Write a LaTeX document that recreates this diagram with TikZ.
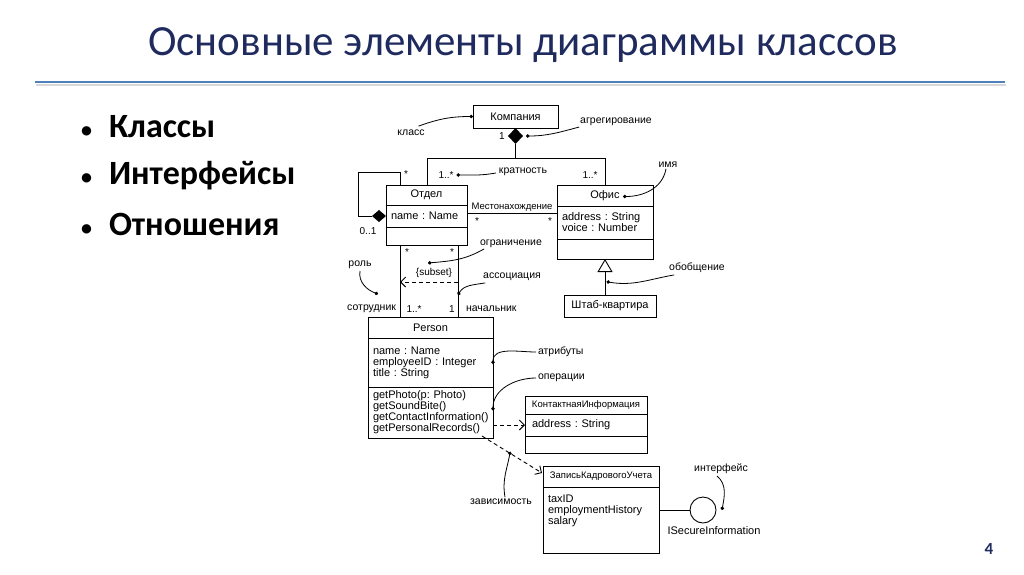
\documentclass[tikz,border=0pt]{standalone}
\usepackage{fontspec}
\setmainfont{Carlito}
\newfontfamily\umlfont{Liberation Sans}
\usetikzlibrary{arrows.meta,positioning,shapes.geometric,calc}
\frenchspacing

\definecolor{titleblue}{HTML}{1F2B5E}
\definecolor{ruleblue}{HTML}{4F81BD}

\newcommand{\itembullet}{\llap{{\fontsize{22}{22}\selectfont•}\hspace{17pt}}}

\begin{document}
\begin{tikzpicture}[
    x=1pt, y=1pt,
    every node/.style={inner sep=0pt, outer sep=0pt, font=\umlfont\fontsize{11}{11}\selectfont},
    cls/.style 2 args={draw, line width=0.9pt, minimum width=#1, minimum height=#2},
    attr/.style 2 args={draw, line width=0.9pt, text width=#1, inner xsep=5pt,
        minimum height=#2, align=left},
    agg/.style 2 args={diamond, fill, minimum width=#1, minimum height=#2},
    link/.style={line width=0.9pt},
    dep/.style={line width=0.9pt, dash pattern=on 4pt off 3pt,
        -{Straight Barb[length=5pt,width=10pt]}},
    gen/.style={line width=0.9pt, -{Triangle[open,length=13pt,width=15pt]}},
    note/.style={line width=0.8pt, -{Circle[length=3.5pt]}},
    lbl/.style={font=\umlfont\fontsize{10.5}{11}\selectfont},
    mult/.style={font=\umlfont\fontsize{10}{11}\selectfont},
    small/.style={font=\umlfont\fontsize{9.5}{11}\selectfont},
    item/.style={anchor=west, font=\bfseries\fontsize{34}{38}\selectfont}
]
\useasboundingbox (0,0) rectangle (1024,-574);

% Slide header
\node[font=\fontsize{43}{50}\selectfont, text=titleblue] (title) at (523,-45)
  {Основные элементы диаграммы классов};
\coordinate (rule-l) at (35,-82);
\coordinate (rule-r) at (1005,-82);
\draw[black!15, line width=2pt] ($(rule-l)+(1,-3)$) -- ($(rule-r)+(1,-3)$);
\draw[ruleblue, line width=2.6pt] (rule-l) -- (rule-r);

% Bullet list
\node[item] (i-cls)  at (109,-127) {\itembullet Классы};
\node[item] (i-ifc)  at (109,-176) {\itembullet Интерфейсы};
\node[item] (i-rel)  at (109,-224) {\itembullet Отношения};

% Page number
\node[font=\bfseries\fontsize{17}{17}\selectfont, text=titleblue] (page) at (989,-549) {4};

% Classes
\node[cls={85}{23}, anchor=north west] (kompania) at (473,-105) {Компания};

\node[cls={81}{20}, anchor=north west] (otdel) at (386,-185) {Отдел};
\node[attr={71pt}{22}, below=0pt of otdel] (otdel-a) {name : Name};
\node[cls={81}{18}, below=0pt of otdel-a] (otdel-e) {};

\node[cls={96}{21}, anchor=north west] (ofis) at (557,-185) {Офис};
\node[attr={86pt}{33}, below=0pt of ofis] (ofis-a) {address : String\\voice : Number};
\node[cls={96}{20}, below=0pt of ofis-a] (ofis-e) {};

\node[cls={92}{22}, anchor=north west] (shtab) at (564,-295) {Штаб-квартира};

\node[cls={125}{21}, anchor=north west] (person) at (368,-317) {Person};
\node[attr={115pt}{49}, below=0pt of person] (person-a)
  {name : Name\\employeeID : Integer\\title : String};
\node[attr={115pt}{51}, below=0pt of person-a] (person-o)
  {getPhoto(p: Photo)\\getSoundBite()\\getContactInformation()\\getPersonalRecords()};

\node[cls={122}{18}, small, anchor=north west] (kontakt) at (525,-396) {КонтактнаяИнформация};
\node[attr={108pt}{22}, inner xsep=7pt, below=0pt of kontakt] (kontakt-a) {address : String};
\node[cls={122}{17}, below=0pt of kontakt-a] (kontakt-e) {};

\node[cls={116}{21}, small, anchor=north west] (zapis) at (543,-466) {ЗаписьКадровогоУчета};
\node[cls={116}{66}, below=0pt of zapis] (zapis-a) {};
\node[anchor=north west, align=left] (zapis-t) at ($(zapis-a.north west)+(5,-8)$)
  {taxID\\employmentHistory\\salary};

% Interface lollipop
\node[circle, draw, line width=0.9pt, minimum size=26] (iface) at (703,-510) {};
\draw[link] (zapis-a.east |- iface) -- (iface);
\node (iface-name) at (714,-531) {ISecureInformation};

% Aggregation Компания -> Отдел, Офис
\node[agg={15}{16}, below=0pt of kompania] (agg) {};
\coordinate (fork) at ($(agg.south)+(0,-14)$);
\draw[link] (agg.south) -- (fork);
\draw[link] (fork) -| ($(otdel.north west)+(41,0)$);
\draw[link] (fork) -| ($(ofis.north west)+(48,0)$);
\node[mult] (m-komp) at (502,-136) {1};
\node[mult] (m-otdel) at (446,-175) {1..*};
\node[mult] (m-ofis) at (590,-175) {1..*};

% Self aggregation of Отдел
\node[agg={14}{12}, left=0pt of otdel-a] (self-agg) {};
\coordinate (loop) at ($(otdel.north west)+(-28,13)$);
\draw[link] ($(otdel.north west)+(14,0)$) |- (loop) |- (self-agg.west);
\node[mult] (m-loop) at (406,-174) {*};
\node[mult] (m-self) at (368,-231) {0..1};

% Association Местонахождение
\coordinate (loc-l) at ($(otdel-a.east)+(0,3)$);
\draw[link] (loc-l) -- coordinate[midway] (loc-mid) (loc-l -| ofis-a.west);
\node[small, above=2pt of loc-mid] (loc) {Местонахождение};
\node[mult] (m-loc-l) at (477,-221) {*};
\node[mult] (m-loc-r) at (550,-221) {*};

% Associations Отдел - Person
\coordinate (emp-top) at ($(otdel-e.south west)+(14,0)$);
\coordinate (boss-top) at ($(otdel-e.south west)+(72,0)$);
\draw[link] (emp-top) -- (emp-top |- person.north);
\draw[link] (boss-top) -- (boss-top |- person.north);
\draw[dep] ($(boss-top)+(0,-37)$) -- ($(emp-top)+(0,-37)$);
\node[mult] (subset) at (434,-273) {\{subset\}};
\node[mult] (m-emp-t) at (407,-252) {*};
\node[mult] (m-boss-t) at (452,-252) {*};
\node[mult] (m-emp) at (414,-309) {1..*};
\node[mult] (m-boss) at (452,-309) {1};
\node[lbl, anchor=east] (r-emp) at (396,-309) {сотрудник};
\node[lbl, anchor=west] (r-boss) at (466,-309) {начальник};

% Generalization
\draw[gen] (ofis-e.south |- shtab.north) -- coordinate[pos=0.37] (gen-dot) (ofis-e.south);

% Dependencies
\draw[dep] (person-o.east |- kontakt-a.west) -- (kontakt-a.west);
\draw[dep] ($(person-o.south east)+(-11,2)$) -- coordinate[pos=0.47] (dep-dot)
  ($(zapis.north west)+(-1,-7)$);

% Notes with leaders
\node[lbl] (l-klass) at (411,-133) {класс};
\draw[note] ($(l-klass.north east)+(-6,4)$) to[out=20,in=180] (kompania.west);

\node[lbl] (l-agg) at (616,-122) {агрегирование};
\draw[note] ($(l-agg.west)+(-1,-5)$) to[out=195,in=0] ($(agg.east)+(3,0)$);

\node[lbl] (l-krat) at (523,-172) {кратность};
\draw[note] ($(l-krat.west)+(-3,-1)$) to[out=190,in=0] ($(m-otdel.east)+(3,0)$);

\node[lbl] (l-imya) at (668,-165) {имя};
\draw[note] ($(l-imya.south)+(-2,-1)$) to[out=-100,in=0] ($(ofis.center)+(18,-1)$);

\node[lbl] (l-ogr) at (511,-244) {ограничение};
\draw[note] ($(l-ogr.south west)+(4,-1)$) to[out=-150,in=5] ($(subset.center)+(-6,10)$);

\node[lbl] (l-assoc) at (512,-277) {ассоциация};
\draw[note] ($(l-assoc.south west)+(2,-2)$) to[out=190,in=60] ($(boss-top)+(0,-50)$);

\node[lbl] (l-rol) at (360,-265) {роль};
\draw[note] ($(l-rol.south)+(0,-2)$) to[out=-100,in=160] ($(emp-top)+(-22,-49)$);

\node[lbl] (l-gen) at (697,-268) {обобщение};
\draw[note] ($(l-gen.south west)+(5,-2)$) to[out=190,in=-10] ($(gen-dot)+(1.5,0)$);

\node[lbl, anchor=west] (l-attr) at (538,-352) {атрибуты};
\draw[note] ($(l-attr.west)+(-2,0)$) to[out=180,in=90] ($(person-a.east)+(0,-1.5)$);

\node[lbl, anchor=west] (l-ops) at (538,-378) {операции};
\draw[note] ($(l-ops.west)+(-2,0)$) to[out=180,in=90] ($(person-o.east)+(0,2)$);

\node[lbl] (l-dep) at (501,-502) {зависимость};
\draw[note] ($(l-dep.north)+(4,2)$) to[out=100,in=-100] ($(dep-dot)+(0,1.75)$);

\node[lbl] (l-int) at (721,-469) {интерфейс};
\draw[note] ($(l-int.south)+(-4,-2)$) to[out=-40,in=80] ($(iface.east)+(6,0)$);

\end{tikzpicture}
\end{document}
